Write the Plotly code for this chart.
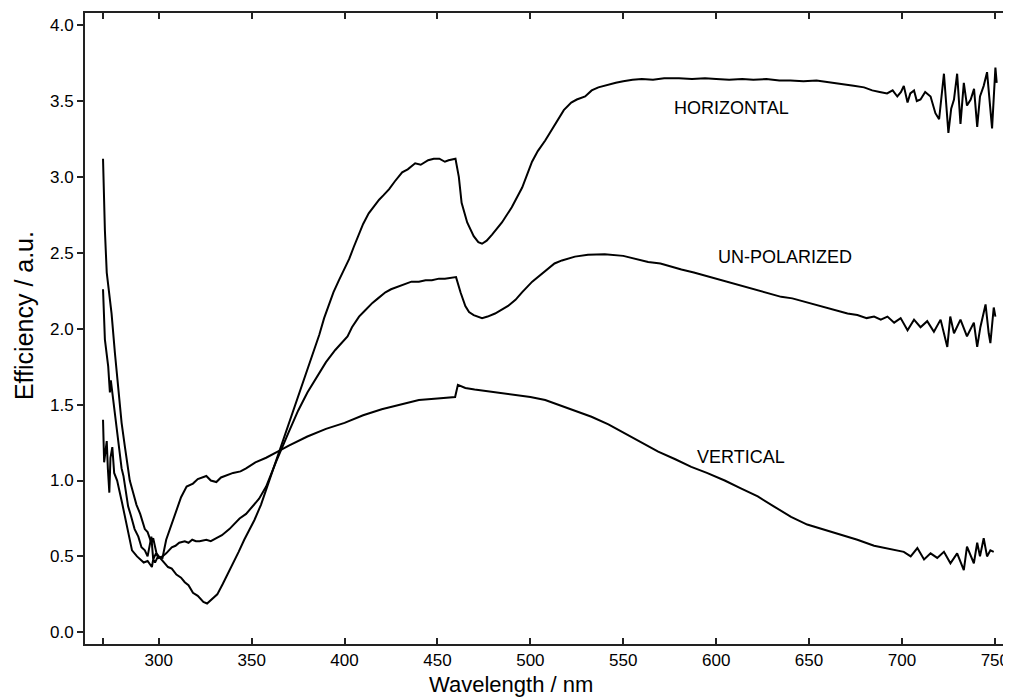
import plotly.graph_objects as go

# ---- HORIZONTAL polarization ----
wl_horizontal = [270.0, 271.0, 272.0, 273.5, 274.6, 276.4, 278.2, 280.0, 281.8, 284.4, 286.0, 288.0, 290.0,
                 292.5, 294.0, 296.0, 297.0, 298.8, 300.0, 302.0, 305.0, 307.0, 309.5, 312.0, 314.0, 316.0,
                 318.4, 321.0, 324.0, 326.0, 329.0, 331.5, 334.5, 337.0, 340.0, 343.0, 346.0, 349.0, 351.5,
                 355.0, 357.8, 360.0, 363.0, 366.0, 370.0, 375.0, 380.0, 383.0, 386.4, 389.0, 391.7, 394.0,
                 397.0, 402.5, 405.0, 407.8, 410.0, 413.0, 416.0, 418.6, 421.0, 424.0, 427.0, 431.0, 434.0,
                 438.0, 441.0, 445.0, 448.0, 451.0, 454.0, 456.0, 459.7, 461.5, 463.0, 466.0, 469.5, 472.0,
                 474.0, 476.5, 479.4, 484.7, 490.0, 495.6, 500.9, 504.0, 508.0, 512.0, 515.0, 518.0, 522.0,
                 525.0, 529.5, 533.0, 536.6, 542.0, 546.0, 550.0, 555.0, 560.0, 566.0, 572.0, 580.0, 587.0,
                 594.0, 600.0, 607.0, 614.0, 620.0, 627.0, 634.0, 640.0, 647.0, 654.0, 661.6, 668.0, 674.0,
                 679.6, 684.0, 688.0, 692.0, 695.0, 697.5, 699.5, 701.0, 703.0, 704.5, 706.5, 708.0, 710.0,
                 712.5, 715.4, 718.0, 720.0, 722.6, 725.0, 726.5, 728.0, 729.7, 731.5, 733.3, 735.0, 737.0,
                 738.8, 740.5, 742.0, 744.0, 745.8, 747.0, 748.5, 750.3, 751.0]
eff_horizontal = [3.12, 2.65, 2.37, 2.20, 2.10, 1.84, 1.62, 1.38, 1.22, 1.00, 0.93, 0.84, 0.78,
                  0.68, 0.66, 0.59, 0.62, 0.52, 0.50, 0.47, 0.43, 0.42, 0.38, 0.36, 0.33, 0.31,
                  0.26, 0.24, 0.20, 0.19, 0.22, 0.25, 0.32, 0.38, 0.46, 0.53, 0.61, 0.68, 0.74,
                  0.84, 0.94, 1.01, 1.12, 1.22, 1.37, 1.55, 1.73, 1.83, 1.96, 2.07, 2.17, 2.24,
                  2.32, 2.46, 2.54, 2.63, 2.69, 2.76, 2.81, 2.85, 2.88, 2.92, 2.97, 3.03, 3.05,
                  3.09, 3.08, 3.11, 3.12, 3.12, 3.10, 3.11, 3.12, 3.00, 2.83, 2.70, 2.61, 2.57,
                  2.56, 2.58, 2.62, 2.70, 2.80, 2.93, 3.10, 3.17, 3.24, 3.32, 3.38, 3.44, 3.49,
                  3.51, 3.53, 3.57, 3.59, 3.61, 3.62, 3.63, 3.64, 3.645, 3.64, 3.65, 3.65, 3.645,
                  3.65, 3.645, 3.64, 3.645, 3.64, 3.645, 3.635, 3.635, 3.63, 3.635, 3.62, 3.61, 3.60,
                  3.59, 3.57, 3.56, 3.55, 3.57, 3.53, 3.56, 3.60, 3.49, 3.55, 3.57, 3.50, 3.51,
                  3.56, 3.53, 3.42, 3.38, 3.68, 3.29, 3.45, 3.51, 3.68, 3.35, 3.62, 3.47, 3.51,
                  3.58, 3.33, 3.53, 3.60, 3.69, 3.50, 3.32, 3.72, 3.62]

# ---- UN-POLARIZED ----
wl_unpolarized = [270.0, 271.0, 272.8, 273.7, 274.2, 275.5, 276.4, 278.0, 280.0, 281.0, 283.5, 285.0, 287.0,
                  289.0, 290.7, 292.5, 294.0, 296.0, 297.0, 298.5, 300.0, 302.0, 304.0, 307.0, 309.0, 311.0,
                  314.0, 316.0, 318.0, 320.0, 322.0, 325.6, 328.0, 331.0, 334.0, 338.0, 343.5, 347.0, 350.6,
                  354.0, 357.8, 363.0, 370.0, 375.0, 380.0, 385.0, 390.0, 395.0, 401.6, 404.0, 407.8, 411.0,
                  415.0, 418.0, 422.0, 425.0, 429.0, 432.0, 436.0, 440.0, 443.6, 447.0, 450.8, 454.0, 457.9,
                  460.0, 462.4, 465.0, 467.0, 469.5, 474.0, 477.0, 481.0, 484.0, 488.0, 492.0, 495.5, 501.0,
                  505.0, 509.8, 513.0, 517.0, 524.0, 531.0, 540.0, 550.0, 556.0, 563.4, 570.0, 575.0, 581.3,
                  588.0, 594.0, 599.0, 605.0, 611.0, 617.0, 623.0, 629.0, 635.0, 641.0, 647.0, 653.0, 659.0,
                  665.0, 670.7, 676.0, 681.0, 685.0, 688.6, 692.2, 695.8, 699.3, 703.0, 706.5, 710.0, 713.6,
                  717.2, 720.8, 724.4, 726.0, 728.0, 731.5, 735.0, 738.7, 740.5, 742.2, 745.0, 746.7, 747.6,
                  749.4, 750.3]
eff_unpolarized = [2.26, 1.93, 1.75, 1.58, 1.66, 1.53, 1.42, 1.25, 1.08, 1.03, 0.83, 0.77, 0.68,
                   0.63, 0.56, 0.54, 0.50, 0.63, 0.48, 0.52, 0.49, 0.50, 0.52, 0.56, 0.57, 0.59,
                   0.60, 0.59, 0.61, 0.60, 0.60, 0.61, 0.60, 0.62, 0.64, 0.68, 0.75, 0.78, 0.83,
                   0.88, 0.96, 1.12, 1.32, 1.46, 1.58, 1.68, 1.78, 1.86, 1.95, 2.01, 2.08, 2.12,
                   2.17, 2.20, 2.24, 2.26, 2.28, 2.29, 2.31, 2.31, 2.32, 2.32, 2.33, 2.33, 2.335,
                   2.34, 2.24, 2.15, 2.11, 2.09, 2.07, 2.08, 2.10, 2.12, 2.15, 2.19, 2.24, 2.31,
                   2.35, 2.40, 2.43, 2.45, 2.475, 2.487, 2.49, 2.48, 2.46, 2.44, 2.43, 2.41, 2.39,
                   2.37, 2.35, 2.33, 2.31, 2.29, 2.27, 2.25, 2.23, 2.21, 2.20, 2.18, 2.16, 2.14,
                   2.12, 2.10, 2.09, 2.07, 2.08, 2.06, 2.08, 2.04, 2.07, 1.99, 2.06, 2.01, 2.05,
                   1.98, 2.06, 1.88, 2.08, 1.97, 2.06, 1.95, 2.04, 1.88, 2.01, 2.16, 1.97, 1.905,
                   2.14, 2.08]

# ---- VERTICAL polarization ----
wl_vertical = [270.0, 270.6, 271.4, 272.0, 272.6, 273.4, 274.0, 275.0, 276.0, 277.6, 280.3, 283.0, 285.6,
               288.3, 291.9, 294.0, 296.3, 297.0, 298.0, 299.6, 302.0, 304.0, 306.5, 309.5, 312.0, 315.0,
               318.4, 321.0, 324.0, 325.6, 328.0, 331.0, 333.5, 336.0, 340.0, 344.0, 347.0, 352.0, 357.8,
               364.0, 370.0, 380.0, 390.0, 400.0, 410.0, 420.0, 430.0, 440.0, 450.0, 458.0, 459.5, 461.0,
               465.0, 470.0, 480.0, 490.0, 500.0, 508.0, 515.0, 524.0, 532.9, 542.0, 551.0, 560.0, 568.8,
               578.0, 586.6, 595.0, 604.6, 613.0, 622.4, 631.0, 640.3, 649.0, 658.2, 667.0, 676.0, 685.0,
               694.0, 697.5, 701.0, 704.7, 708.3, 711.9, 715.4, 719.0, 722.6, 726.1, 729.7, 733.3, 735.0,
               738.7, 740.5, 742.0, 744.0, 745.8, 747.6, 749.4]
eff_vertical = [1.40, 1.12, 1.20, 1.26, 1.08, 0.92, 1.15, 1.22, 1.05, 1.00, 0.85, 0.70, 0.54,
                0.50, 0.46, 0.47, 0.43, 0.48, 0.46, 0.50, 0.49, 0.61, 0.70, 0.81, 0.89, 0.96,
                0.98, 1.01, 1.02, 1.03, 1.00, 0.99, 1.02, 1.03, 1.05, 1.06, 1.08, 1.12, 1.15,
                1.19, 1.23, 1.29, 1.34, 1.38, 1.43, 1.47, 1.50, 1.53, 1.54, 1.545, 1.55, 1.63,
                1.61, 1.60, 1.585, 1.57, 1.55, 1.53, 1.50, 1.46, 1.42, 1.37, 1.31, 1.25, 1.19,
                1.14, 1.09, 1.05, 1.00, 0.95, 0.895, 0.83, 0.76, 0.71, 0.675, 0.64, 0.61, 0.57,
                0.545, 0.54, 0.53, 0.50, 0.555, 0.48, 0.52, 0.49, 0.53, 0.455, 0.52, 0.41, 0.565,
                0.455, 0.59, 0.50, 0.62, 0.50, 0.54, 0.53]

# ---- axis ticks and labels ----
x_tickvals = [270, 300, 350, 400, 450, 500, 550, 600, 650, 700, 750]
x_ticktext = ["", "300", "350", "400", "450", "500", "550", "600", "650", "700", "750"]
y_tickvals = [0.0, 0.5, 1.0, 1.5, 2.0, 2.5, 3.0, 3.5, 4.0]
x_title = "Wavelength / nm"
y_title = "Efficiency / a.u."
curve_labels = ["HORIZONTAL", "UN-POLARIZED", "VERTICAL"]
label_wl = [608, 637, 613.5]
label_eff = [3.455, 2.47, 1.158]

FONT = "Liberation Sans, Arial, Helvetica, sans-serif"
fig = go.Figure()
for xs, ys, name in [(wl_horizontal, eff_horizontal, curve_labels[0]),
                     (wl_unpolarized, eff_unpolarized, curve_labels[1]),
                     (wl_vertical, eff_vertical, curve_labels[2])]:
    fig.add_trace(go.Scatter(x=xs, y=ys, mode="lines", name=name,
                             line=dict(color="black", width=2)))

for txt, xv, yv in zip(curve_labels, label_wl, label_eff):
    fig.add_annotation(x=xv, y=yv, text=txt, showarrow=False,
                       font=dict(family=FONT, size=18, color="black"))

# axis titles
fig.add_annotation(xref="paper", yref="paper", x=0.462, y=-0.0635, text=x_title,
                   showarrow=False, xanchor="center", yanchor="middle",
                   font=dict(family=FONT, size=22, color="black"))
fig.add_annotation(xref="paper", yref="paper", x=-0.066, y=0.520, text=y_title,
                   showarrow=False, textangle=-90, xanchor="center", yanchor="middle",
                   font=dict(family=FONT, size=25, color="black"))

fig.update_layout(
    width=1003, height=691,
    margin=dict(l=77, r=2, t=5, b=55),
    paper_bgcolor="white", plot_bgcolor="white",
    showlegend=False,
    font=dict(family=FONT, color="black"),
)
fig.update_xaxes(range=[260.3, 756.0], tickvals=x_tickvals, ticktext=x_ticktext,
                 ticks="inside", ticklen=6, tickwidth=1.5, tickcolor="#222",
                 showline=True, linecolor="#222", linewidth=2, mirror="ticks",
                 showgrid=False, zeroline=False, ticklabeloverflow="allow",
                 tickfont=dict(size=17, family=FONT))
fig.update_yaxes(range=[-0.077, 4.080], tickvals=y_tickvals, tickformat=".1f",
                 ticks="outside", ticklen=6, tickwidth=1.5, tickcolor="#222",
                 showline=True, linecolor="#222", linewidth=2,
                 showgrid=False, zeroline=False,
                 tickfont=dict(size=17, family=FONT))

fig.write_html("out.html")
